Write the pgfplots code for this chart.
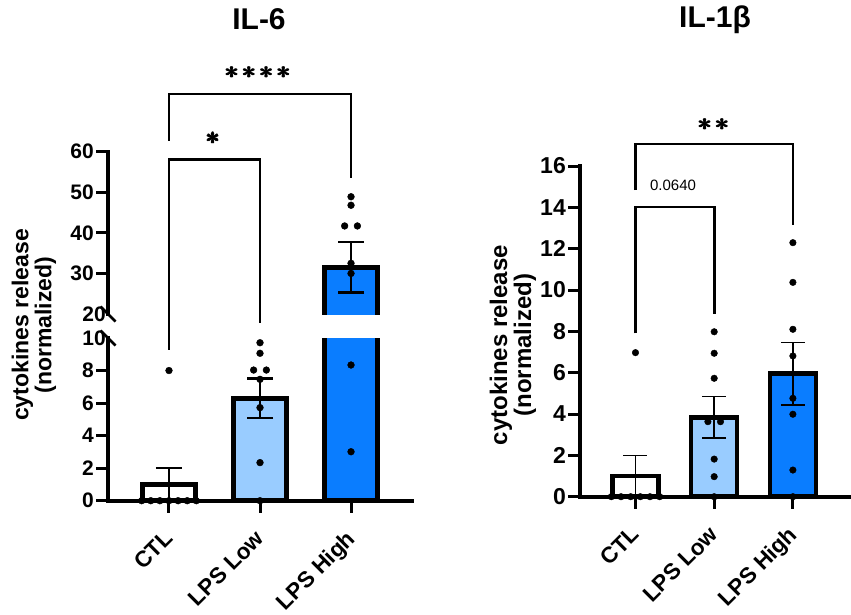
\documentclass[border=0pt]{standalone}
\usepackage{amsmath}
\usepackage{fontspec}
\setmainfont{Liberation Sans}
\usepackage{pgfplots}
\pgfplotsset{compat=1.18}
\definecolor{lowblue}{RGB}{153,204,255}
\definecolor{highblue}{RGB}{10,125,255}
\newcommand{\fs}[1]{\fontsize{#1}{#1}\selectfont}
\newcommand{\st}{\pmb{\ast}}
\newcommand{\stars}[1]{{\fs{32}\boldmath$#1$}}
\pgfplotsset{
  panel/.style={
    scale only axis, anchor=south west,
    separate axis lines,
    axis line style={line width=4pt, line cap=rect},
    tick align=outside, major tick length=12pt,
    tick style={line width=3pt, black},
    /pgf/number format/assume math mode=true,
    clip mode=individual,
    xtick={0,1,2}, xticklabels={CTL, LPS Low, LPS High},
    x tick label style={xshift=-6pt, yshift=-13pt, rotate=45, anchor=north east, font=\bfseries\fs{22.5}, inner sep=2pt},
    y tick label style={inner xsep=2pt},
  },
  dots/.style={only marks, mark=*, mark size=3.4pt, black, mark options={solid, line width=0.4pt}},
}
\begin{document}
\begin{tikzpicture}
\useasboundingbox (0,0) rectangle (851pt,614pt);
% ---------- IL-6 lower segment ----------
\begin{axis}[panel, at={(108pt,113.3pt)}, width=304pt, height=162.7pt,
  xmin=-0.67, xmax=2.67, ymin=0, ymax=10,
  axis x line*=bottom, axis y line*=left,
  ytick={0,2,4,6,8}, extra y ticks={10}, extra y tick style={major tick length=0pt},
  y tick label style={font=\bfseries\fs{21}},
  ]
\addplot[ybar, bar width=53pt, bar shift=0pt, fill=white, draw=black, line width=5pt,
  error bars/.cd, y dir=both, y explicit,
  error bar style={line width=2.5pt, black},
  error mark options={rotate=90, mark size=13pt, line width=2.5pt}]
  coordinates {(0,1) +- (0,1)};
\addplot[ybar, bar width=53pt, bar shift=0pt, fill=lowblue, draw=black, line width=5pt,
  error bars/.cd, y dir=both, y explicit,
  error bar style={line width=2.5pt, black},
  error mark options={rotate=90, mark size=13pt, line width=2.5pt}]
  coordinates {(1,6.29) +- (0,1.21)};
\addplot[ybar, bar width=53pt, bar shift=0pt, fill=highblue, draw=black, line width=5pt]
  coordinates {(2,31.5)};
\addplot[dots] coordinates {(-0.30,0) (-0.20,0) (-0.10,0) (0,0) (0.10,0) (0.20,0) (0.30,0) (0,8)};
\addplot[dots] coordinates {(1,9.71) (1,9.06) (0.93,8.03) (1.07,8.03) (1,7.46) (1,5.72) (1,2.34) (1,0)};
\addplot[dots] coordinates {(2,8.34) (2,3.01)};
\draw[line width=2.8pt] (rel axis cs:0,1) ++(-7.5pt,7.5pt) -- ++(15pt,-15pt);
\end{axis}
% ---------- IL-6 upper segment ----------
\begin{axis}[panel, at={(108pt,300pt)}, width=304pt, height=162.3pt,
  xmin=-0.67, xmax=2.67, ymin=20, ymax=60,
  axis x line=none, axis y line*=left, xtick=\empty,
  ytick={30,40,50,60}, extra y ticks={20}, extra y tick style={major tick length=0pt},
  y tick label style={font=\bfseries\fs{21}},
  ]
% bar of LPS High (mean 31.5), drawn from y=0 so that its base lies below the break
\addplot[fill=highblue, draw=black, line width=5pt, line join=miter]
  coordinates {(1.709,0) (1.709,31.5) (2.291,31.5) (2.291,0)};
\addplot[draw=none, mark=none,
  error bars/.cd, y dir=both, y explicit,
  error bar style={line width=2.5pt, black},
  error mark options={rotate=90, mark size=13pt, line width=2.5pt}]
  coordinates {(2,31.5) +- (0,6.2)};
\addplot[dots] coordinates {(2,48.9) (2,46.8) (1.93,41.7) (2.07,41.7) (2,32.5) (2,30.0)};
\draw[line width=2.8pt] (rel axis cs:0,0) ++(-7.5pt,7.5pt) -- ++(15pt,-15pt);
\draw[line width=2.7pt] (axis cs:0,62.7) -- (axis cs:0,74.2) -- (axis cs:2,74.2) -- (axis cs:2,53.4);
\draw[line width=2.7pt] (axis cs:0,11.13) -- (axis cs:0,58) -- (axis cs:1,58) -- (axis cs:1,17.86);
\node at (axis cs:0.487,63.3) {\stars{\st}};
\node at (axis cs:0.98,79.5) {\stars{{\st}\kern3pt{\st}\kern3pt{\st}\kern3pt{\st}}};
\end{axis}
% ---------- IL-1beta ----------
\begin{axis}[panel, at={(580pt,117.3pt)}, width=269pt, height=330.7pt,
  xmin=-0.705, xmax=2.713, ymin=0, ymax=16,
  axis x line*=bottom, axis y line*=left,
  ytick={0,2,...,16},
  y tick label style={font=\bfseries\fs{23}},
  ]
\addplot[ybar, bar width=46pt, bar shift=0pt, fill=white, draw=black, line width=4.5pt,
  error bars/.cd, y dir=both, y explicit,
  error bar style={line width=1.6pt, black},
  error mark options={rotate=90, mark size=12pt, line width=1.6pt}]
  coordinates {(0,1) +- (0,1)};
\addplot[ybar, bar width=46pt, bar shift=0pt, fill=lowblue, draw=black, line width=4.5pt,
  error bars/.cd, y dir=both, y explicit,
  error bar style={line width=1.6pt, black},
  error mark options={rotate=90, mark size=12pt, line width=1.6pt}]
  coordinates {(1,3.84) +- (0,1.01)};
\addplot[ybar, bar width=46pt, bar shift=0pt, fill=highblue, draw=black, line width=4.5pt,
  error bars/.cd, y dir=both, y explicit,
  error bar style={line width=1.6pt, black},
  error mark options={rotate=90, mark size=12pt, line width=1.6pt}]
  coordinates {(2,5.95) +- (0,1.52)};
\addplot[dots, mark size=3.3pt] coordinates {(-0.307,0) (-0.184,0) (-0.061,0) (0.061,0) (0.184,0) (0.307,0) (0,6.97)};
\addplot[dots, mark size=3.3pt] coordinates {(1,7.98) (1,6.94) (1,5.73) (0.92,3.63) (1.08,3.63) (1,1.82) (1,0.97) (1,0)};
\addplot[dots, mark size=3.3pt] coordinates {(2,12.29) (2,10.37) (2,8.1) (2,6.81) (2,4.76) (2,3.99) (2,1.29) (2,0)};
\draw[line width=2.7pt] (axis cs:0,14.83) -- (axis cs:0,17.06) -- (axis cs:2,17.06) -- (axis cs:2,13.14);
\draw[line width=2.7pt] (axis cs:0,7.9) -- (axis cs:0,14.02) -- (axis cs:1,14.02) -- (axis cs:1,8.84);
\node at (axis cs:0.997,18.0) {\stars{{\st}\kern3pt{\st}}};
\node[font=\fs{15}] at (axis cs:0.477,15.07) {0.0640};
\end{axis}
% ---------- titles and axis labels ----------
\node[anchor=base, font=\bfseries\fs{30}] at (259pt,584pt) {IL-6};
\node[anchor=base, font=\bfseries\fs{30}] at (715pt,586pt) {IL-1β};
\node[rotate=90, align=center, font=\bfseries\fs{23}] at (34pt,289pt) {cytokines release\\(normalized)};
\node[rotate=90, align=center, font=\bfseries\fs{24}] at (513pt,269pt) {cytokines release\\(normalized)};
\end{tikzpicture}
\end{document}
